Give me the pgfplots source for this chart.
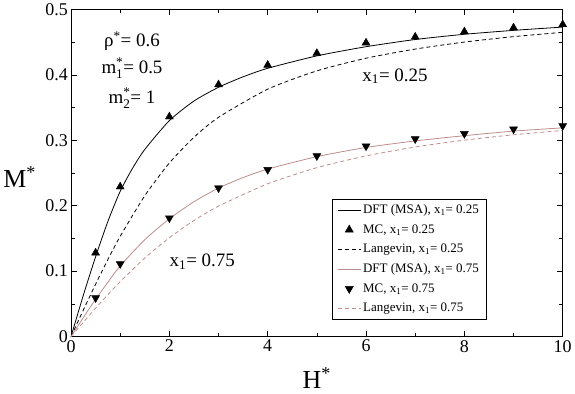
\documentclass[border=0pt]{standalone}
\usepackage{amsmath}
\usepackage{fontspec}
\setmainfont{Liberation Serif}
\usepackage{pgfplots}
\pgfplotsset{compat=1.18}
\definecolor{rosy}{RGB}{190,140,140}
\newcommand{\xo}[1]{x\textsubscript{1}= #1}
\pgfplotsset{my line legend/.style={legend image code/.code={\draw[mark repeat=2,mark phase=2,##1] plot coordinates {(0pt,0pt) (11.5pt,0pt) (23pt,0pt)};}}}
\begin{document}
\begin{tikzpicture}
\begin{axis}[
  scale only axis, width=493pt, height=328pt,
  xmin=0, xmax=10, ymin=0, ymax=0.5,
  xtick={0,2,...,10}, minor xtick={1,3,...,9},
  ytick={0,0.1,...,0.5}, minor ytick={0.05,0.15,...,0.45},
  tick align=inside, major tick length=6pt, minor tick length=4pt,
  tick style={black, line width=0.6pt},
  axis line style={line width=0.8pt},
  /pgf/number format/assume math mode=true,
  tick label style={font=\fontsize{18}{18}\selectfont},
  yticklabel style={/pgf/number format/fixed, /pgf/number format/precision=1, inner xsep=3pt},
  xlabel={H\textsuperscript{*}}, ylabel={M\textsuperscript{*}},
  label style={font=\fontsize{26}{26}\selectfont},
  xlabel style={at={(axis description cs:0.5,-0.158)}, anchor=base},
  ylabel style={at={(axis description cs:-0.1045,0.457)}, anchor=base, rotate=-90},
  legend style={at={(axis description cs:0.531,0.052)}, anchor=south west,
    font=\fontsize{13}{13}\selectfont, draw=black, line width=0.6pt,
    row sep=5.4pt, inner xsep=5pt, inner ysep=4pt, cells={anchor=west},
    /tikz/every even column/.append style={column sep=12pt}},
  legend cell align=left,
  my line legend,
  clip=false,
]
\path (rel axis cs:-0.144,-0.174) rectangle (rel axis cs:1.0223,1.0274);
% DFT x1=0.25
\addplot[black, line width=0.8pt, smooth, tension=0.4] coordinates {
 (0,0) (0.25,0.063) (0.5,0.122) (0.75,0.176) (1,0.222) (1.25,0.257) (1.5,0.286)
 (2,0.330) (2.5,0.360) (3,0.381) (3.5,0.397) (4,0.410) (5,0.429) (6,0.443)
 (7,0.454) (8,0.462) (9,0.468) (10,0.473)};
\addlegendentry{DFT (MSA), \xo{0.25}}
% MC x1=0.25
\addplot[only marks, mark=triangle*, mark size=4.6pt, black] coordinates {
 (0.5,0.128) (1,0.229) (2,0.336) (3,0.385) (4,0.415) (5,0.433) (6,0.449)
 (7,0.458) (8,0.466) (9,0.472) (10,0.477)};
\addlegendentry{MC, \xo{0.25}}
% Langevin x1=0.25
\addplot[black, line width=0.8pt, dash pattern=on 4pt off 3pt, smooth, tension=0.4] coordinates {
 (0,0) (0.25,0.0405) (0.5,0.0800) (0.75,0.1178) (1,0.1532) (1.5,0.2152) (2,0.2653)
 (2.5,0.3045) (3,0.3351) (4,0.3781) (5,0.4061) (6,0.4254) (7,0.4394)
 (8,0.4501) (9,0.4584) (10,0.4650)};
\addlegendentry{Langevin, \xo{0.25}}
% DFT x1=0.75
\addplot[rosy, line width=0.8pt, smooth, tension=0.4] coordinates {
 (0,0) (0.25,0.029) (0.5,0.057) (0.75,0.083) (1,0.108) (1.5,0.148) (2,0.180)
 (2.5,0.206) (3,0.227) (3.5,0.243) (4,0.256) (5,0.275) (6,0.289) (7,0.299)
 (8,0.307) (9,0.314) (10,0.319)};
\addlegendentry{DFT (MSA), \xo{0.75}}
% MC x1=0.75
\addplot[only marks, mark=triangle*, mark options={rotate=180}, mark size=4.6pt, black] coordinates {
 (0.5,0.059) (1,0.111) (2,0.181) (3,0.227) (4,0.255) (5,0.276) (6,0.291)
 (7,0.302) (8,0.310) (9,0.317) (10,0.322)};
\addlegendentry{MC, \xo{0.75}}
% Langevin x1=0.75
\addplot[rosy, line width=0.8pt, dash pattern=on 4pt off 3pt, smooth, tension=0.4] coordinates {
 (0,0) (0.25,0.0218) (0.5,0.0433) (0.75,0.0640) (1,0.0839) (1.5,0.1200) (2,0.1510)
 (2.5,0.1773) (3,0.1993) (4,0.2335) (5,0.2581) (6,0.2761) (7,0.2897)
 (8,0.3002) (9,0.3084) (10,0.3150)};
\addlegendentry{Langevin, \xo{0.75}}
% annotations
\node[font=\fontsize{19}{19}\selectfont, inner sep=0pt] at (axis cs:1.24,0.452) {ρ\textsuperscript{*}= 0.6};
\node[font=\fontsize{19}{19}\selectfont, inner sep=0pt] at (axis cs:1.24,0.410) {$\text{m}^{\text{*}}_{\text{1}}$= 0.5};
\node[font=\fontsize{19}{19}\selectfont, inner sep=0pt] at (axis cs:1.24,0.364) {$\text{m}^{\text{*}}_{\text{2}}$= 1};
\node[font=\fontsize{19}{19}\selectfont] at (axis cs:6.59,0.398) {\xo{0.25}};
\node[font=\fontsize{19}{19}\selectfont] at (axis cs:2.67,0.115) {\xo{0.75}};
\end{axis}
\end{tikzpicture}
\end{document}
